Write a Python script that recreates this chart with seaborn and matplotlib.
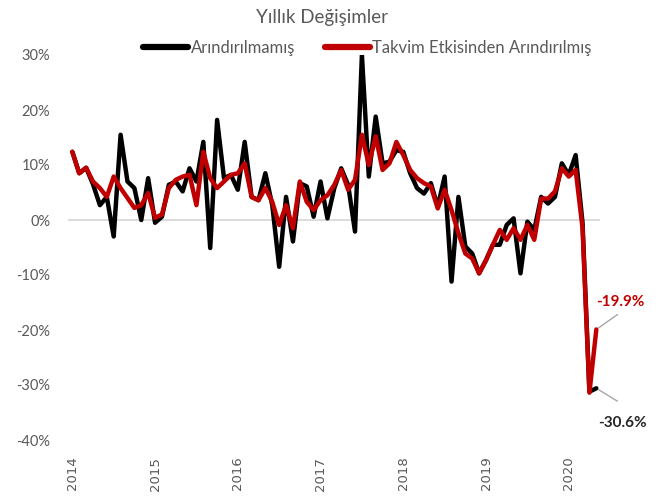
import matplotlib
matplotlib.use('Agg')
import matplotlib.pyplot as plt
import seaborn as sns
import pandas as pd

# Monthly annual change (%), Jan 2014 - May 2020
months = pd.date_range('2014-01-01', '2020-05-01', freq='MS')
raw = [12.4, 8.5, 9.5, 6.5, 2.7, 4.2, -3.0, 15.5, 7.0, 5.8, 0.0, 7.6,
       -0.5, 0.6, 6.4, 7.0, 5.2, 9.4, 7.0, 14.2, -5.1, 18.2, 7.6, 8.2,
       5.5, 14.2, 4.2, 3.6, 8.5, 2.7, -8.5, 4.2, -3.9, 6.7, 6.1, 0.6,
       7.0, 0.3, 5.8, 9.4, 6.4, -2.1, 30.0, 7.9, 18.8, 10.3, 10.6, 12.7,
       12.4, 8.5, 5.8, 4.8, 6.7, 2.4, 7.9, -11.2, 4.2, -4.8, -6.1, -9.7,
       -7.3, -4.5, -4.5, -0.9, 0.3, -9.7, -0.3, -1.8, 4.2, 3.0, 4.2, 10.3,
       8.2, 11.8, -0.5, -31.2, -30.6]
adjusted = [12.4, 8.5, 9.5, 7.0, 5.8, 4.2, 7.9, 5.8, 4.0, 2.2, 2.7, 4.9,
            0.4, 1.0, 5.8, 7.3, 7.9, 8.2, 2.7, 12.4, 7.6, 5.8, 7.0, 8.2,
            8.5, 10.3, 4.2, 3.6, 5.8, 3.3, -0.9, 2.7, -1.5, 7.0, 3.3, 1.8,
            3.6, 4.5, 6.4, 9.1, 5.5, 7.3, 15.5, 10.0, 15.2, 9.1, 10.3, 14.2,
            11.8, 9.1, 7.6, 6.7, 6.1, 2.1, 5.5, 1.8, -2.4, -6.1, -7.0, -9.7,
            -7.3, -4.5, -1.8, -3.6, -1.5, -3.6, -0.9, -3.6, 3.9, 3.9, 5.2, 9.4,
            7.9, 9.1, -1.5, -31.4, -19.9]
series_names = ['Arındırılmamış', 'Takvim Etkisinden Arındırılmış']
years = ['2014', '2015', '2016', '2017', '2018', '2019', '2020']

df = pd.DataFrame({
    'idx': list(range(len(months))) * 2,
    'value': raw + adjusted,
    'series': [series_names[0]] * len(raw) + [series_names[1]] * len(adjusted),
})

sns.set_style('white')
plt.rcParams['font.family'] = ['Lato', 'DejaVu Sans']

fig = plt.figure(figsize=(6.62, 5), dpi=100)
ax = fig.add_axes([0.103, 0.12, 0.803, 0.77])

ax.axhline(0, color='#d9d9d9', lw=1.3, zorder=0)
sns.lineplot(data=df, x='idx', y='value', hue='series', ax=ax,
             palette={series_names[0]: 'black', series_names[1]: '#c00000'},
             linewidth=3.2, legend=True)

ax.set_xlim(-0.6, 76.5)
ax.set_ylim(-40, 30)
ax.set_yticks(range(-40, 31, 10))
ax.set_yticklabels([f'{v}%' for v in range(-40, 31, 10)], color='#595959', fontsize=10.5)
ax.set_xticks(range(0, 73, 12))
ax.set_xticklabels(years, rotation=90, color='#595959', fontsize=9.5, family='DejaVu Sans')
ax.tick_params(axis='y', length=0, pad=13)
ax.tick_params(axis='x', length=0, pad=12)
ax.set_xlabel('')
ax.set_ylabel('')
sns.despine(ax=ax, left=True, bottom=True)

# annotations
ax.annotate('', xy=(76, -19.9), xytext=(79.4, -16.9),
            arrowprops=dict(arrowstyle='-', color='#a6a6a6', lw=1), annotation_clip=False)
ax.text(79.5, -14.9, '-19.9%', color='#c00000', fontsize=11, fontweight='bold',
        ha='center', va='center', clip_on=False)
ax.annotate('', xy=(76, -30.6), xytext=(79.4, -33.2),
            arrowprops=dict(arrowstyle='-', color='#a6a6a6', lw=1), annotation_clip=False)
ax.text(79.8, -36.9, '-30.6%', color='#262626', fontsize=11, fontweight='bold',
        ha='center', va='center', clip_on=False)

leg = ax.legend(loc='center', bbox_to_anchor=(0.555, 0.904), bbox_transform=fig.transFigure,
                ncol=2, frameon=False, fontsize=12, handlelength=2.7, columnspacing=1.8,
                handletextpad=0.15, borderpad=0, borderaxespad=0)
for t in leg.get_texts():
    t.set_color('#595959')
for h in leg.get_lines():
    h.set_linewidth(4.5)
    h.set_solid_capstyle('round')

fig.text(0.487, 0.966, 'Yıllık Değişimler', ha='center', va='center', fontsize=13.5, color='#595959')

fig.savefig('out.png', dpi=100)
